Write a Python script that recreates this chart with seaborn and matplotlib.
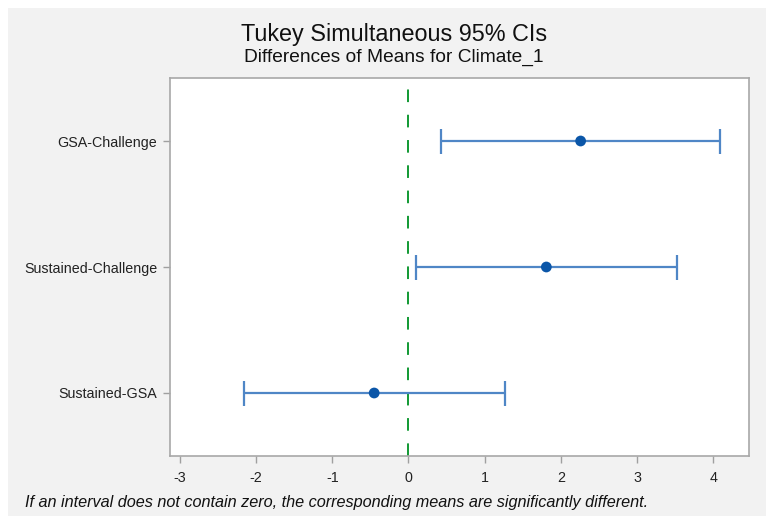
import matplotlib
matplotlib.use("Agg")
import matplotlib.pyplot as plt
import seaborn as sns
import pandas as pd
from matplotlib.patches import Rectangle

comparisons = ["GSA-Challenge", "Sustained-Challenge", "Sustained-GSA"]
means = [2.26, 1.81, -0.45]
lower = [0.43, 0.10, -2.16]
upper = [4.09, 3.52, 1.27]
xticks = [-3, -2, -1, 0, 1, 2, 3, 4]

df = pd.DataFrame({"comparison": comparisons, "mean": means,
                   "lower": lower, "upper": upper})
df["pos"] = range(len(df))

sns.set_style("white")
plt.rcParams["font.family"] = ["Liberation Sans", "DejaVu Sans"]

W, H = 766, 516
fig = plt.figure(figsize=(W / 100, H / 100), dpi=100, facecolor="white")
fig.patches.append(Rectangle((8 / W, 0), 1 - 8 / W, 1 - 8 / H,
                             transform=fig.transFigure, facecolor="#f2f2f2",
                             edgecolor="none", zorder=-10))
ax = fig.add_axes([170 / W, 1 - 456 / H, (749 - 170) / W, (456 - 78) / H])
ax.set_facecolor("white")

ax.axvline(0, color="#119933", lw=1.4, dashes=(6.5, 6.5), zorder=1)

ax.errorbar(df["mean"], df["pos"],
            xerr=[df["mean"] - df["lower"], df["upper"] - df["mean"]],
            fmt="none", ecolor="#4f86c6", elinewidth=1.6, capsize=9,
            capthick=1.6, zorder=2)
sns.scatterplot(data=df, x="mean", y="pos", ax=ax, color="#0b56a8",
                s=60, edgecolor="none", zorder=3, legend=False)

ax.set_xlim(-3.13, 4.47)
ax.set_ylim(2.5, -0.5)
ax.set_xticks(xticks)
ax.set_xticklabels([str(t) for t in xticks])
ax.set_yticks(df["pos"])
ax.set_yticklabels(df["comparison"])
ax.set_xlabel("")
ax.set_ylabel("")
ax.tick_params(axis="both", which="both", length=5, width=1,
               color="#a0a0a0", labelsize=10.3, labelcolor="#222222",
               direction="out", left=True, bottom=True, pad=4)
ax.tick_params(axis="x", pad=6)
for s in ax.spines.values():
    s.set_color("#a8a8a8")
    s.set_linewidth(1.2)

fig.text(394 / W, 1 - 34 / H, "Tukey Simultaneous 95% CIs",
         ha="center", va="center", fontsize=16.8, color="#111111")
fig.text(394 / W, 1 - 57 / H, "Differences of Means for Climate_1",
         ha="center", va="center", fontsize=13.8, color="#111111")
fig.text(25 / W, 1 - 503 / H,
         "If an interval does not contain zero, the corresponding means are significantly different.",
         ha="left", va="center", fontsize=11.7, style="italic", color="#111111")

fig.savefig("out.png", dpi=100, facecolor=fig.get_facecolor())
